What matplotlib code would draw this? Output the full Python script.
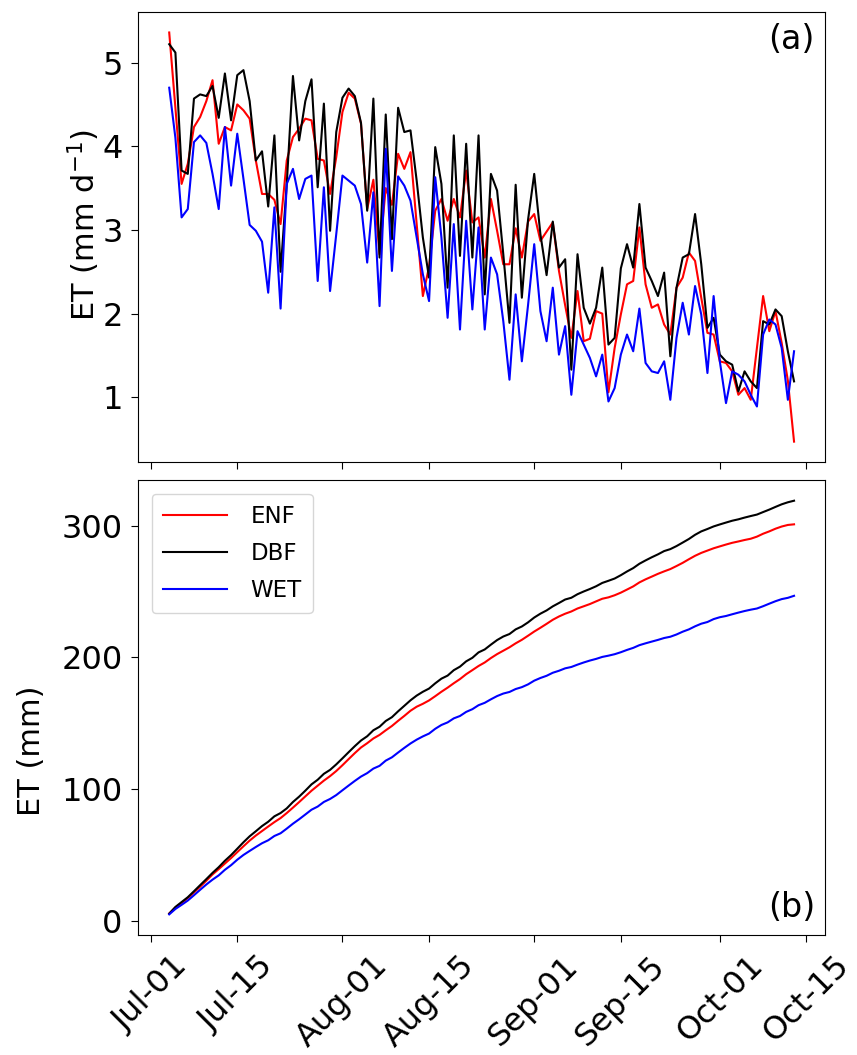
import numpy as np
import pandas as pd
import matplotlib
matplotlib.use("Agg")
import matplotlib.pyplot as plt
import matplotlib.dates as mdates

dates = pd.date_range("2019-07-04", "2019-10-13", freq="D")

enf = [5.36, 4.46, 3.55, 3.79, 4.23, 4.35, 4.54, 4.79, 4.03, 4.23,
       4.19, 4.50, 4.43, 4.33, 3.83, 3.43, 3.43, 3.36, 3.07, 3.83,
       4.11, 4.21, 4.33, 4.31, 3.85, 3.83, 3.43, 3.87, 4.41, 4.64,
       4.57, 4.27, 3.25, 3.60, 2.71, 3.50, 3.30, 3.91, 3.73, 3.93,
       3.07, 2.21, 2.56, 3.23, 3.37, 3.11, 3.37, 3.15, 3.71, 3.09,
       3.15, 2.67, 3.37, 2.99, 2.59, 2.59, 3.02, 2.67, 3.10, 3.19,
       2.87, 2.98, 3.09, 2.51, 2.10, 1.71, 2.27, 1.67, 1.70, 2.03,
       2.00, 1.06, 1.59, 1.99, 2.35, 2.39, 3.03, 2.35, 2.07, 2.11,
       1.87, 1.75, 2.31, 2.43, 2.73, 2.63, 2.19, 1.77, 1.75, 1.43,
       1.41, 1.31, 1.03, 1.11, 0.97, 1.59, 2.21, 1.79, 2.03, 1.65,
       1.20, 0.47]

dbf = [5.22, 5.12, 3.71, 3.67, 4.57, 4.62, 4.60, 4.72, 4.34, 4.87,
       4.31, 4.85, 4.91, 4.54, 3.83, 3.94, 3.28, 4.13, 2.50, 3.55,
       4.84, 4.07, 4.54, 4.80, 3.51, 4.51, 2.99, 4.17, 4.58, 4.69,
       4.60, 4.28, 3.23, 4.57, 2.67, 4.38, 2.89, 4.46, 4.17, 4.19,
       3.59, 2.91, 2.43, 3.99, 3.55, 2.31, 4.13, 2.69, 4.03, 2.67,
       4.13, 2.23, 3.67, 3.47, 2.71, 1.89, 3.54, 2.19, 3.12, 3.67,
       2.95, 2.46, 3.10, 2.55, 2.65, 1.33, 2.71, 2.07, 1.88, 2.07,
       2.55, 1.63, 1.71, 2.54, 2.83, 2.55, 3.31, 2.55, 2.39, 2.21,
       2.49, 1.49, 2.31, 2.67, 2.71, 3.19, 2.59, 1.83, 1.95, 1.51,
       1.43, 1.39, 1.07, 1.31, 1.19, 1.11, 1.91, 1.87, 2.05, 1.97,
       1.55, 1.19]

wet = [4.70, 4.10, 3.15, 3.25, 4.05, 4.13, 4.04, 3.67, 3.25, 4.23,
       3.53, 4.15, 3.61, 3.06, 2.99, 2.86, 2.25, 3.27, 2.06, 3.55,
       3.73, 3.37, 3.61, 3.65, 2.39, 3.51, 2.27, 2.95, 3.65, 3.59,
       3.53, 3.31, 2.61, 3.45, 2.09, 3.97, 2.51, 3.64, 3.53, 3.35,
       2.91, 2.47, 2.15, 3.63, 2.91, 1.95, 3.07, 1.81, 3.11, 2.05,
       3.03, 1.81, 2.67, 2.47, 1.91, 1.21, 2.23, 1.43, 2.10, 2.83,
       2.03, 1.67, 2.31, 1.51, 1.85, 1.03, 1.79, 1.63, 1.47, 1.25,
       1.51, 0.95, 1.11, 1.51, 1.75, 1.55, 2.06, 1.41, 1.31, 1.29,
       1.43, 0.97, 1.71, 2.13, 1.75, 2.33, 1.99, 1.29, 2.21, 1.43,
       0.93, 1.31, 1.27, 1.19, 1.03, 0.89, 1.75, 1.93, 1.87, 1.59,
       0.97, 1.55]

series_names = ["ENF", "DBF", "WET"]
series_colors = ["red", "black", "blue"]
daily = [enf, dbf, wet]

fig = plt.figure(figsize=(8.57, 10.55), dpi=100)
ax1 = fig.add_axes([0.161, 0.562, 0.802, 0.4266])
ax2 = fig.add_axes([0.161, 0.1137, 0.802, 0.4313], sharex=ax1)

for vals, name, c in zip(daily, series_names, series_colors):
    ax1.plot(dates, vals, color=c, lw=1.5, label=name)
    ax2.plot(dates, np.cumsum(vals), color=c, lw=1.5, label=name)

ax1.set_ylabel("ET (mm d$^{-1}$)", fontsize=22)
ax2.set_ylabel("ET (mm)", fontsize=22)
ax1.yaxis.set_label_coords(-0.052, 0.527)
ax2.yaxis.set_label_coords(-0.134, 0.405)
ax1.set_yticks([1, 2, 3, 4, 5])
ax2.set_yticks([0, 100, 200, 300])

loc = mdates.DayLocator(bymonthday=[1, 15])
ax2.xaxis.set_major_locator(loc)
ax2.xaxis.set_major_formatter(mdates.DateFormatter("%b-%d"))
plt.setp(ax1.get_xticklabels(), visible=False)
for lab in ax2.get_xticklabels():
    lab.set_rotation(45)
    lab.set_ha("center")

for ax in (ax1, ax2):
    ax.tick_params(axis="both", labelsize=23, length=5, pad=6)

ax1.text(0.985, 0.975, "(a)", transform=ax1.transAxes, ha="right", va="top", fontsize=24)
ax2.text(0.985, 0.025, "(b)", transform=ax2.transAxes, ha="right", va="bottom", fontsize=24)

ax2.legend(loc="upper left", fontsize=16.5, handlelength=2.8, borderpad=0.5,
           labelspacing=0.6, handletextpad=1.0, borderaxespad=0.6)

fig.savefig("out.png", dpi=100)
